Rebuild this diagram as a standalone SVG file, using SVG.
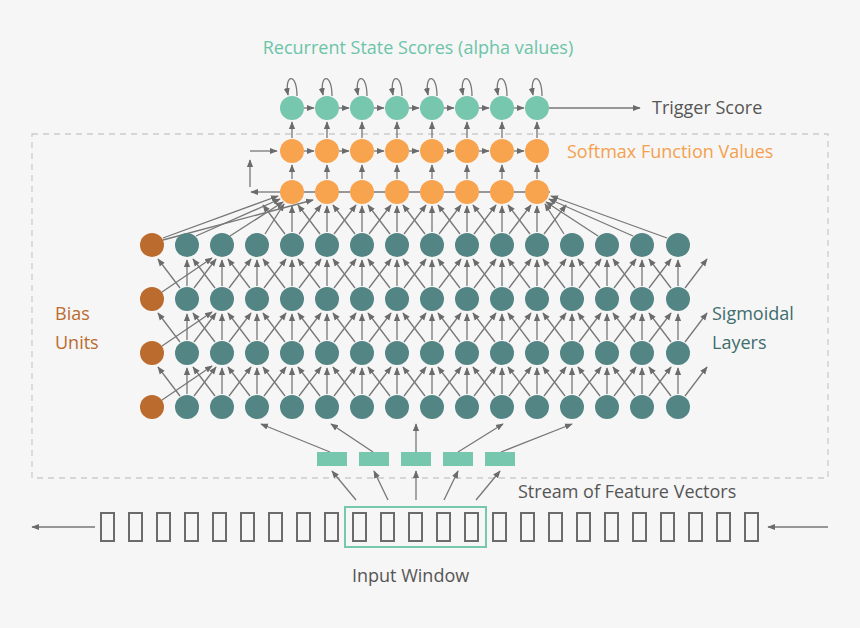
<svg xmlns="http://www.w3.org/2000/svg" xmlns:xlink="http://www.w3.org/1999/xlink" width="860" height="628" viewBox="0 0 860 628">
<style>
.ln{stroke:#777;stroke-width:1.3;fill:none}
.ar{stroke:#777;stroke-width:1.3;fill:none;marker-end:url(#ah)}
.t{font-family:"Open Sans","Liberation Sans",sans-serif;font-size:18px}
.sg{fill:#528584}.bi{fill:#bb6b2e}.or{fill:#f8a44f}.tl{fill:#77c6ae}
.box{fill:none;stroke:#6b6b6b;stroke-width:2}
</style>
<defs>
<marker id="ah" viewBox="0 0 10 10" refX="9" refY="5" markerWidth="6" markerHeight="6" orient="auto"><path d="M0,1 L10,5 L0,9z" fill="#6b6b6b"/></marker>
<g id="cell"><line class="ar" x1="0" y1="-13" x2="0" y2="-39"/><line class="ar" x1="-7" y1="-11" x2="-29" y2="-40"/><line class="ar" x1="7" y1="-11" x2="29" y2="-40"/></g>
</defs>
<rect width="860" height="628" fill="#f6f6f6"/>
<rect x="32" y="134" width="796" height="344" fill="none" stroke="#ccc" stroke-width="1.3" stroke-dasharray="6,5"/>
<g id="connectors">
<g id="sig-links">
<use xlink:href="#cell" x="187" y="407"/><use xlink:href="#cell" x="222" y="407"/><use xlink:href="#cell" x="257" y="407"/><use xlink:href="#cell" x="292" y="407"/><use xlink:href="#cell" x="327" y="407"/><use xlink:href="#cell" x="362" y="407"/><use xlink:href="#cell" x="397" y="407"/><use xlink:href="#cell" x="432" y="407"/><use xlink:href="#cell" x="467" y="407"/><use xlink:href="#cell" x="502" y="407"/><use xlink:href="#cell" x="537" y="407"/><use xlink:href="#cell" x="572" y="407"/><use xlink:href="#cell" x="607" y="407"/><use xlink:href="#cell" x="642" y="407"/><use xlink:href="#cell" x="678" y="407"/>
<use xlink:href="#cell" x="187" y="353"/><use xlink:href="#cell" x="222" y="353"/><use xlink:href="#cell" x="257" y="353"/><use xlink:href="#cell" x="292" y="353"/><use xlink:href="#cell" x="327" y="353"/><use xlink:href="#cell" x="362" y="353"/><use xlink:href="#cell" x="397" y="353"/><use xlink:href="#cell" x="432" y="353"/><use xlink:href="#cell" x="467" y="353"/><use xlink:href="#cell" x="502" y="353"/><use xlink:href="#cell" x="537" y="353"/><use xlink:href="#cell" x="572" y="353"/><use xlink:href="#cell" x="607" y="353"/><use xlink:href="#cell" x="642" y="353"/><use xlink:href="#cell" x="678" y="353"/>
<use xlink:href="#cell" x="187" y="299"/><use xlink:href="#cell" x="222" y="299"/><use xlink:href="#cell" x="257" y="299"/><use xlink:href="#cell" x="292" y="299"/><use xlink:href="#cell" x="327" y="299"/><use xlink:href="#cell" x="362" y="299"/><use xlink:href="#cell" x="397" y="299"/><use xlink:href="#cell" x="432" y="299"/><use xlink:href="#cell" x="467" y="299"/><use xlink:href="#cell" x="502" y="299"/><use xlink:href="#cell" x="537" y="299"/><use xlink:href="#cell" x="572" y="299"/><use xlink:href="#cell" x="607" y="299"/><use xlink:href="#cell" x="642" y="299"/><use xlink:href="#cell" x="678" y="299"/>
<line class="ar" x1="162" y1="400" x2="212" y2="366"/><line class="ar" x1="162" y1="346" x2="212" y2="312"/><line class="ar" x1="162" y1="292" x2="212" y2="258"/>
<use xlink:href="#cell" x="292" y="245"/><use xlink:href="#cell" x="327" y="245"/><use xlink:href="#cell" x="362" y="245"/><use xlink:href="#cell" x="397" y="245"/><use xlink:href="#cell" x="432" y="245"/><use xlink:href="#cell" x="467" y="245"/><use xlink:href="#cell" x="502" y="245"/><use xlink:href="#cell" x="537" y="245"/>
<line class="ar" x1="163" y1="238" x2="278" y2="196"/><line class="ar" x1="196" y1="236" x2="280" y2="199"/><line class="ar" x1="230" y1="236" x2="283" y2="202"/><line class="ar" x1="265" y1="234" x2="284" y2="204"/><line class="ar" x1="163" y1="240" x2="313" y2="200"/>
<line class="ar" x1="667" y1="238" x2="551" y2="196"/><line class="ar" x1="633" y1="236" x2="549" y2="199"/><line class="ar" x1="598" y1="236" x2="546" y2="202"/><line class="ar" x1="564" y1="234" x2="545" y2="204"/>
</g>
<g id="top-links">
<line class="ln" x1="280" y1="192" x2="550" y2="192"/>
<path class="ar" d="M280,192 H251"/><path class="ar" d="M250,187 V160"/><path class="ar" d="M250,151 H277"/>
<line class="ar" x1="292" y1="179" x2="292" y2="165"/><line class="ar" x1="327" y1="179" x2="327" y2="165"/><line class="ar" x1="362" y1="179" x2="362" y2="165"/><line class="ar" x1="397" y1="179" x2="397" y2="165"/><line class="ar" x1="432" y1="179" x2="432" y2="165"/><line class="ar" x1="467" y1="179" x2="467" y2="165"/><line class="ar" x1="502" y1="179" x2="502" y2="165"/><line class="ar" x1="537" y1="179" x2="537" y2="165"/>
<line class="ar" x1="292" y1="138" x2="292" y2="122"/><line class="ar" x1="327" y1="138" x2="327" y2="122"/><line class="ar" x1="362" y1="138" x2="362" y2="122"/><line class="ar" x1="397" y1="138" x2="397" y2="122"/><line class="ar" x1="432" y1="138" x2="432" y2="122"/><line class="ar" x1="467" y1="138" x2="467" y2="122"/><line class="ar" x1="502" y1="138" x2="502" y2="122"/><line class="ar" x1="537" y1="138" x2="537" y2="122"/>
<line class="ar" x1="304" y1="151" x2="314" y2="151"/><line class="ar" x1="339" y1="151" x2="349" y2="151"/><line class="ar" x1="374" y1="151" x2="384" y2="151"/><line class="ar" x1="409" y1="151" x2="419" y2="151"/><line class="ar" x1="444" y1="151" x2="454" y2="151"/><line class="ar" x1="479" y1="151" x2="489" y2="151"/><line class="ar" x1="514" y1="151" x2="524" y2="151"/>
<line class="ar" x1="304" y1="108" x2="314" y2="108"/><line class="ar" x1="339" y1="108" x2="349" y2="108"/><line class="ar" x1="374" y1="108" x2="384" y2="108"/><line class="ar" x1="409" y1="108" x2="419" y2="108"/><line class="ar" x1="444" y1="108" x2="454" y2="108"/><line class="ar" x1="479" y1="108" x2="489" y2="108"/><line class="ar" x1="514" y1="108" x2="524" y2="108"/>
<line class="ar" x1="549" y1="108" x2="640" y2="108"/>
<path class="ar" d="M297,96 C297,72 284,74 288,95"/><path class="ar" d="M332,96 C332,72 319,74 323,95"/><path class="ar" d="M367,96 C367,72 354,74 358,95"/><path class="ar" d="M402,96 C402,72 389,74 393,95"/><path class="ar" d="M437,96 C437,72 424,74 428,95"/><path class="ar" d="M472,96 C472,72 459,74 463,95"/><path class="ar" d="M507,96 C507,72 494,74 498,95"/><path class="ar" d="M542,96 C542,72 529,74 533,95"/>
</g>
<g id="input-links">
<line class="ar" x1="330" y1="452" x2="261" y2="424"/><line class="ar" x1="373" y1="452" x2="331" y2="424"/><line class="ar" x1="416" y1="452" x2="416" y2="424"/><line class="ar" x1="458" y1="452" x2="503" y2="424"/><line class="ar" x1="501" y1="452" x2="572" y2="424"/>
<line class="ar" x1="356" y1="500" x2="332" y2="471"/><line class="ar" x1="388" y1="500" x2="374" y2="471"/><line class="ar" x1="416" y1="500" x2="416" y2="471"/><line class="ar" x1="444" y1="500" x2="458" y2="471"/><line class="ar" x1="476" y1="500" x2="500" y2="471"/>
<line class="ar" x1="95" y1="527" x2="32" y2="527"/><line class="ar" x1="828" y1="527" x2="768" y2="527"/>
</g>
</g>
<g id="bias"><circle class="bi" cx="152" cy="245" r="12"/><circle class="bi" cx="152" cy="299" r="12"/><circle class="bi" cx="152" cy="353" r="12"/><circle class="bi" cx="152" cy="407" r="12"/></g>
<g id="sigmoid">
<g id="r1"><circle class="sg" cx="187" cy="245" r="12"/><circle class="sg" cx="222" cy="245" r="12"/><circle class="sg" cx="257" cy="245" r="12"/><circle class="sg" cx="292" cy="245" r="12"/><circle class="sg" cx="327" cy="245" r="12"/><circle class="sg" cx="362" cy="245" r="12"/><circle class="sg" cx="397" cy="245" r="12"/><circle class="sg" cx="432" cy="245" r="12"/><circle class="sg" cx="467" cy="245" r="12"/><circle class="sg" cx="502" cy="245" r="12"/><circle class="sg" cx="537" cy="245" r="12"/><circle class="sg" cx="572" cy="245" r="12"/><circle class="sg" cx="607" cy="245" r="12"/><circle class="sg" cx="642" cy="245" r="12"/><circle class="sg" cx="678" cy="245" r="12"/></g>
<g id="r2"><circle class="sg" cx="187" cy="299" r="12"/><circle class="sg" cx="222" cy="299" r="12"/><circle class="sg" cx="257" cy="299" r="12"/><circle class="sg" cx="292" cy="299" r="12"/><circle class="sg" cx="327" cy="299" r="12"/><circle class="sg" cx="362" cy="299" r="12"/><circle class="sg" cx="397" cy="299" r="12"/><circle class="sg" cx="432" cy="299" r="12"/><circle class="sg" cx="467" cy="299" r="12"/><circle class="sg" cx="502" cy="299" r="12"/><circle class="sg" cx="537" cy="299" r="12"/><circle class="sg" cx="572" cy="299" r="12"/><circle class="sg" cx="607" cy="299" r="12"/><circle class="sg" cx="642" cy="299" r="12"/><circle class="sg" cx="678" cy="299" r="12"/></g>
<g id="r3"><circle class="sg" cx="187" cy="353" r="12"/><circle class="sg" cx="222" cy="353" r="12"/><circle class="sg" cx="257" cy="353" r="12"/><circle class="sg" cx="292" cy="353" r="12"/><circle class="sg" cx="327" cy="353" r="12"/><circle class="sg" cx="362" cy="353" r="12"/><circle class="sg" cx="397" cy="353" r="12"/><circle class="sg" cx="432" cy="353" r="12"/><circle class="sg" cx="467" cy="353" r="12"/><circle class="sg" cx="502" cy="353" r="12"/><circle class="sg" cx="537" cy="353" r="12"/><circle class="sg" cx="572" cy="353" r="12"/><circle class="sg" cx="607" cy="353" r="12"/><circle class="sg" cx="642" cy="353" r="12"/><circle class="sg" cx="678" cy="353" r="12"/></g>
<g id="r4"><circle class="sg" cx="187" cy="407" r="12"/><circle class="sg" cx="222" cy="407" r="12"/><circle class="sg" cx="257" cy="407" r="12"/><circle class="sg" cx="292" cy="407" r="12"/><circle class="sg" cx="327" cy="407" r="12"/><circle class="sg" cx="362" cy="407" r="12"/><circle class="sg" cx="397" cy="407" r="12"/><circle class="sg" cx="432" cy="407" r="12"/><circle class="sg" cx="467" cy="407" r="12"/><circle class="sg" cx="502" cy="407" r="12"/><circle class="sg" cx="537" cy="407" r="12"/><circle class="sg" cx="572" cy="407" r="12"/><circle class="sg" cx="607" cy="407" r="12"/><circle class="sg" cx="642" cy="407" r="12"/><circle class="sg" cx="678" cy="407" r="12"/></g>
</g>
<g id="softmax">
<circle class="or" cx="292" cy="192" r="12"/><circle class="or" cx="327" cy="192" r="12"/><circle class="or" cx="362" cy="192" r="12"/><circle class="or" cx="397" cy="192" r="12"/><circle class="or" cx="432" cy="192" r="12"/><circle class="or" cx="467" cy="192" r="12"/><circle class="or" cx="502" cy="192" r="12"/><circle class="or" cx="537" cy="192" r="12"/>
<circle class="or" cx="292" cy="151" r="12"/><circle class="or" cx="327" cy="151" r="12"/><circle class="or" cx="362" cy="151" r="12"/><circle class="or" cx="397" cy="151" r="12"/><circle class="or" cx="432" cy="151" r="12"/><circle class="or" cx="467" cy="151" r="12"/><circle class="or" cx="502" cy="151" r="12"/><circle class="or" cx="537" cy="151" r="12"/>
</g>
<g id="recurrent">
<circle class="tl" cx="292" cy="108" r="12"/><circle class="tl" cx="327" cy="108" r="12"/><circle class="tl" cx="362" cy="108" r="12"/><circle class="tl" cx="397" cy="108" r="12"/><circle class="tl" cx="432" cy="108" r="12"/><circle class="tl" cx="467" cy="108" r="12"/><circle class="tl" cx="502" cy="108" r="12"/><circle class="tl" cx="537" cy="108" r="12"/>
</g>
<g id="features" fill="#77c6ae"><rect x="317" y="452" width="30" height="14"/><rect x="359" y="452" width="30" height="14"/><rect x="401" y="452" width="30" height="14"/><rect x="443" y="452" width="30" height="14"/><rect x="485" y="452" width="30" height="14"/></g>
<g id="input-stream">
<rect class="box" x="101" y="513" width="13" height="28"/><rect class="box" x="129" y="513" width="13" height="28"/><rect class="box" x="157" y="513" width="13" height="28"/><rect class="box" x="185" y="513" width="13" height="28"/><rect class="box" x="213" y="513" width="13" height="28"/><rect class="box" x="241" y="513" width="13" height="28"/><rect class="box" x="269" y="513" width="13" height="28"/><rect class="box" x="297" y="513" width="13" height="28"/><rect class="box" x="325" y="513" width="13" height="28"/><rect class="box" x="353" y="513" width="13" height="28"/><rect class="box" x="381" y="513" width="13" height="28"/><rect class="box" x="409" y="513" width="13" height="28"/><rect class="box" x="437" y="513" width="13" height="28"/><rect class="box" x="465" y="513" width="13" height="28"/><rect class="box" x="493" y="513" width="13" height="28"/><rect class="box" x="521" y="513" width="13" height="28"/><rect class="box" x="549" y="513" width="13" height="28"/><rect class="box" x="577" y="513" width="13" height="28"/><rect class="box" x="605" y="513" width="13" height="28"/><rect class="box" x="633" y="513" width="13" height="28"/><rect class="box" x="661" y="513" width="13" height="28"/><rect class="box" x="689" y="513" width="13" height="28"/><rect class="box" x="717" y="513" width="13" height="28"/><rect class="box" x="745" y="513" width="13" height="28"/>
</g>
<g id="window"><rect x="345" y="507" width="141" height="40" fill="none" stroke="#77c6ae" stroke-width="2"/></g>
<g id="labels" class="t">
<text x="418" y="54" text-anchor="middle" fill="#6cc4a8">Recurrent State Scores (alpha values)</text>
<text x="652" y="114" fill="#555">Trigger Score</text>
<text x="567" y="158" fill="#f5a04e">Softmax Function Values</text>
<text x="55" y="320" fill="#bb6b2e">Bias</text><text x="55" y="349" fill="#bb6b2e">Units</text>
<text x="712" y="320" fill="#3e6d6d">Sigmoidal</text><text x="712" y="349" fill="#3e6d6d">Layers</text>
<text x="518" y="498" fill="#555">Stream of Feature Vectors</text>
<text x="352" y="582" fill="#555">Input Window</text>
</g>
</svg>
